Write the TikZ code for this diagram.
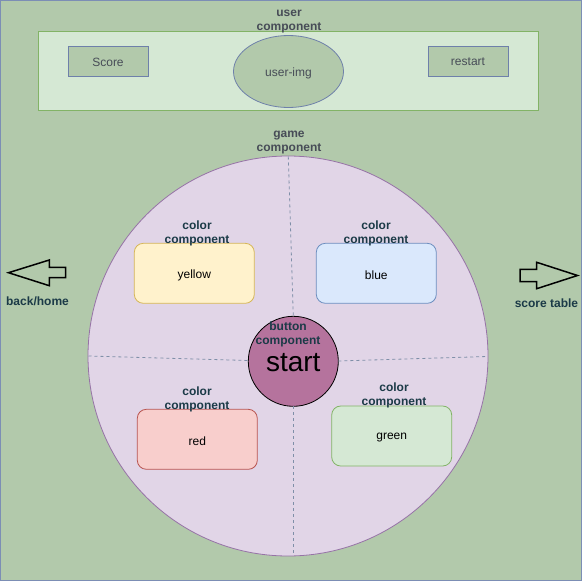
\documentclass[tikz,border=0pt]{standalone}
\usepackage{fontspec}
\setmainfont{Liberation Sans}
\usetikzlibrary{shapes.geometric}
\definecolor{bgfill}{HTML}{B2C9AB}
\definecolor{bgdraw}{HTML}{7C8EB5}
\definecolor{userfill}{HTML}{D5E8D4}
\definecolor{userdraw}{HTML}{82B366}
\definecolor{boxdraw}{HTML}{6E80AA}
\definecolor{gamefill}{HTML}{E1D5E7}
\definecolor{gamedraw}{HTML}{9673A6}
\definecolor{dashc}{HTML}{7F8FA8}
\definecolor{startfill}{HTML}{B5739D}
\definecolor{yfill}{HTML}{FFF2CC}\definecolor{ydraw}{HTML}{D6B656}
\definecolor{bfill}{HTML}{DAE8FC}\definecolor{bdraw}{HTML}{6C8EBF}
\definecolor{rfill}{HTML}{F8CECC}\definecolor{rdraw}{HTML}{B85450}
\definecolor{gfill}{HTML}{D5E8D4}\definecolor{gdraw}{HTML}{82B366}
\definecolor{toptext}{HTML}{474C57}
\definecolor{lbltext}{HTML}{1B3A47}
\tikzset{
  title/.style={font=\fontsize{12}{14}\selectfont\bfseries, text=toptext, align=center, inner sep=0pt},
  lbl/.style={font=\fontsize{12}{14}\selectfont\bfseries, text=lbltext, align=center, inner sep=0pt},
  smallbox/.style={draw=boxdraw, fill=bgfill, line width=0.8pt, minimum width=80pt, minimum height=30pt, inner sep=0pt, font=\fontsize{12}{14}\selectfont, text=toptext},
  colorbox/.style={rounded corners=9pt, line width=0.8pt, minimum width=120pt, minimum height=60pt, inner sep=0pt, font=\fontsize{12}{14}\selectfont, text=black},
  divider/.style={draw=dashc, dash pattern=on 3pt off 3pt, line width=0.8pt},
  arrowshape/.style={draw=black, line width=1.5pt, line join=miter},
}
\begin{document}
\begin{tikzpicture}[x=1pt,y=-1pt]
\useasboundingbox (0,0) rectangle (582,581);
% background
\draw[fill=bgfill, draw=bgdraw, line width=1pt] (0.5,0.5) rectangle (581.5,580.5);
% user component
\node[draw=userdraw, fill=userfill, line width=0.8pt, minimum width=500pt, minimum height=79pt, inner sep=0pt] (user) at (288,70.5) {};
\node[title] (usertitle) at (289,22) {user\\component};
\node[smallbox, text depth=0pt, text height=0pt] (score) at (108,61) {};
\node[font=\fontsize{12}{14}\selectfont, text=toptext, inner sep=0pt] (scoretext) at (108,62) {Score};
\node[smallbox] (restart) at (468,61) {};
\node[font=\fontsize{12}{14}\selectfont, text=toptext, inner sep=0pt] (restarttext) at (468,62) {restart};
\node[ellipse, draw=boxdraw, fill=bgfill, line width=0.8pt, minimum width=110pt, minimum height=72pt, inner sep=0pt] (userimg) at (288.5,71.5) {};
\node[font=\fontsize{12}{14}\selectfont, text=toptext, inner sep=0pt] (userimgtext) at (288.5,73) {user-img};
% game component
\node[title] (gametitle) at (289,143) {game\\component};
\node[circle, draw=gamedraw, fill=gamefill, line width=0.8pt, minimum size=400pt, inner sep=0pt] (game) at (288,356) {};
% start button
\node[circle, draw=black, fill=startfill, line width=0.8pt, minimum size=90pt, inner sep=0pt] (start) at (293.3,361.3) {};
% dividers
\coordinate (gtop) at (288.3,156.5);
\coordinate (gbot) at (293.3,555.5);
\coordinate (gleft) at (88.5,356);
\coordinate (gright) at (487.5,356.5);
\coordinate (stop) at (293.3,316.3);
\coordinate (sbot) at (293.3,406.3);
\coordinate (sleft) at (248.3,360.5);
\coordinate (sright) at (338.3,361);
\draw[divider] (gtop) -- (stop);
\draw[divider] (sbot) -- (gbot);
\draw[divider] (gleft) -- (sleft);
\draw[divider] (sright) -- (gright);
\node[font=\fontsize{28}{30}\selectfont, text=black, inner sep=0pt] (starttext) at (293.3,362.5) {start};
\node[lbl] (buttonlbl) at (288,334.5) {button\\component};
% color components
\node[colorbox, fill=yfill, draw=ydraw] (yellow) at (194.3,273.3) {};
\node[font=\fontsize{12}{14}\selectfont, inner sep=0pt] (yellowtext) at (194.3,275) {yellow};
\node[lbl] (ylbl) at (197,233.5) {color\\component};
\node[colorbox, fill=bfill, draw=bdraw] (blue) at (376.3,273.3) {};
\node[font=\fontsize{12}{14}\selectfont, inner sep=0pt] (bluetext) at (376.3,275) {blue};
\node[lbl] (blbl) at (376,233.5) {color\\component};
\node[colorbox, fill=rfill, draw=rdraw] (red) at (197.3,439.3) {};
\node[font=\fontsize{12}{14}\selectfont, inner sep=0pt] (redtext) at (197.3,441) {red};
\node[lbl] (rlbl) at (197,399.5) {color\\component};
\node[colorbox, fill=gfill, draw=gdraw] (green) at (391.7,436) {};
\node[font=\fontsize{12}{14}\selectfont, inner sep=0pt] (greentext) at (391.7,437.7) {green};
\node[lbl] (glbl) at (394,395.5) {color\\component};
% navigation arrows
\draw[arrowshape] (8.5,272.7) -- (49.3,260) -- (49.3,267.3) -- (65.7,267.3) -- (65.7,277.7) -- (49.3,277.7) -- (49.3,285.7) -- cycle;
\node[lbl] (back) at (37.5,301) {back/home};
\draw[arrowshape] (577.5,275.5) -- (536.7,262.3) -- (536.7,269.3) -- (520,269.3) -- (520,281.7) -- (536.7,281.7) -- (536.7,288.7) -- cycle;
\node[lbl] (scoretable) at (546.5,303.5) {score table};
\end{tikzpicture}
\end{document}
